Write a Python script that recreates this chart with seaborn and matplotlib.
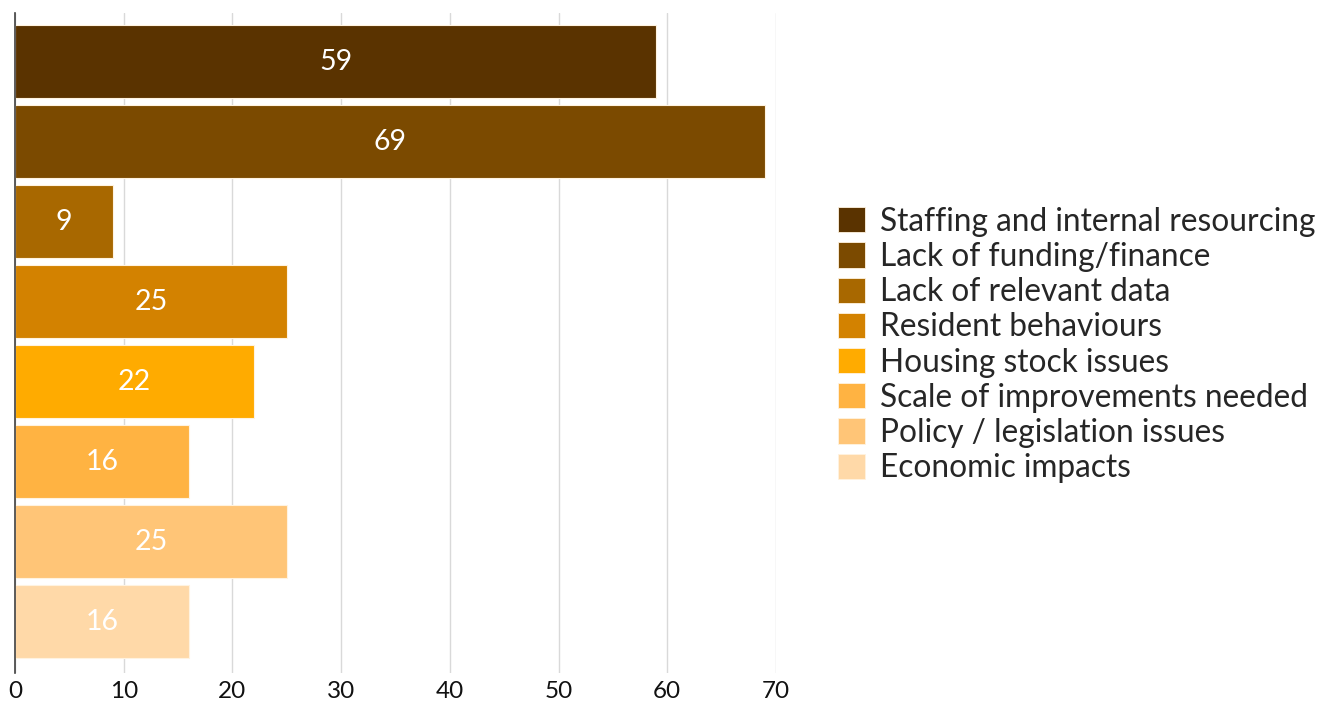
import matplotlib
matplotlib.use("Agg")
import matplotlib.pyplot as plt
import seaborn as sns
import pandas as pd
from matplotlib.patches import Patch

categories = [
    "Staffing and internal resourcing",
    "Lack of funding/finance",
    "Lack of relevant data",
    "Resident behaviours",
    "Housing stock issues",
    "Scale of improvements needed",
    "Policy / legislation issues",
    "Economic impacts",
]
values = [59, 69, 9, 25, 22, 16, 25, 16]
colors = ["#5a3300", "#7b4a00", "#a86800", "#d38200", "#ffab00",
          "#ffb342", "#ffc577", "#ffd9a8"]
x_ticks = [0, 10, 20, 30, 40, 50, 60, 70]

df = pd.DataFrame({"category": categories, "value": values})

sns.set_theme(style="white")
plt.rcParams["font.family"] = ["Lato", "DejaVu Sans"]

fig = plt.figure(figsize=(13.37, 7.06), dpi=100)
ax = fig.add_axes([15 / 1337, 1 - 673 / 706, (776 - 15) / 1337, (673 - 13) / 706])

sns.barplot(data=df, y="category", x="value", hue="category",
            palette=colors, order=categories, hue_order=categories,
            orient="h", width=0.91, dodge=False, legend=False, saturation=1,
            edgecolor="#fff3e0", linewidth=0.8, ax=ax, zorder=2)

for bar, v in zip(ax.patches, values):
    y = bar.get_y() + bar.get_height() / 2
    ax.text(v / 2, y, str(v), ha="center", va="center",
            color="white", fontsize=20.5, zorder=3)

ax.set_xlim(0, 70)
ax.set_ylim(7.64, -0.61)
ax.set_xticks(x_ticks)
ax.set_xticklabels([str(t) for t in x_ticks], fontsize=17.5, color="#111111")
ax.tick_params(axis="x", length=0, pad=6)
ax.set_yticks([])
ax.set_xlabel("")
ax.set_ylabel("")
ax.xaxis.grid(True, color="#d9d9d9", linewidth=1)
ax.set_axisbelow(True)
for side in ["top", "right", "bottom"]:
    ax.spines[side].set_visible(False)
ax.spines["left"].set_color("#404040")
ax.spines["left"].set_linewidth(1.2)
ax.spines["left"].set_zorder(4)

handles = [Patch(facecolor=c, edgecolor="#fff3e0", linewidth=0.6) for c in colors]
fig.legend(handles, categories, loc="upper left",
           bbox_to_anchor=(825 / 1337, 1 - 194 / 706),
           frameon=False, fontsize=22.8, handlelength=0.85, handleheight=0.85,
           handletextpad=0.5, labelspacing=0.165, borderaxespad=0)

fig.savefig("out.png", dpi=100, facecolor="white")
